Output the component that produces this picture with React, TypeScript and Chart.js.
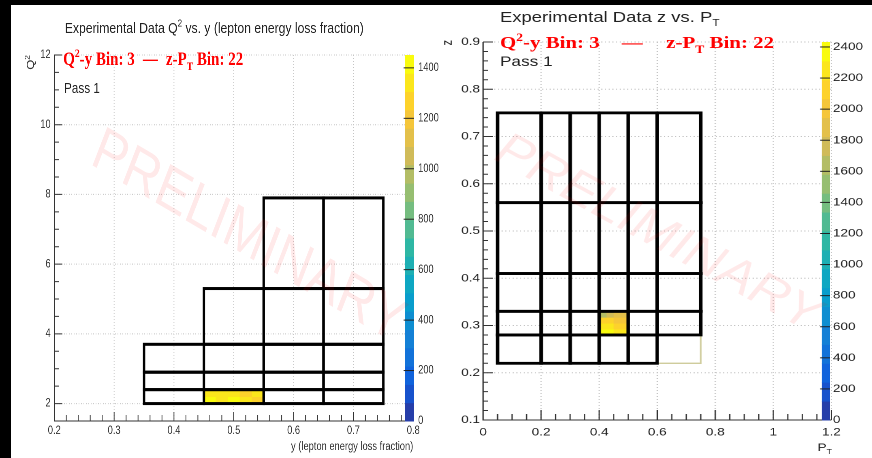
import React, { useEffect, useRef } from 'react';
import { Chart, registerables } from 'chart.js';

Chart.register(...registerables);

// ================= Left panel: Q² vs. y =================
const LEFT_X_RANGE = [0.2, 0.8];
const LEFT_Y_RANGE = [1.5, 12];
const LEFT_X_TICKS = [0.2, 0.3, 0.4, 0.5, 0.6, 0.7, 0.8];
const LEFT_Y_TICKS = [2, 4, 6, 8, 10, 12];
const Q2_EDGES = [2.0, 2.4, 2.9, 3.7, 5.3, 7.9];
const Y_EDGES_PER_Q2_ROW = [
  [0.35, 0.45, 0.55, 0.65, 0.75],
  [0.35, 0.45, 0.55, 0.65, 0.75],
  [0.35, 0.45, 0.55, 0.65, 0.75],
  [0.45, 0.55, 0.65, 0.75],
  [0.55, 0.65, 0.75],
];
const LEFT_FILL_X_EDGES = [0.45, 0.47, 0.49, 0.51, 0.53, 0.55];
const LEFT_FILL_Y_EDGES = [2.0, 2.2, 2.4];
const LEFT_FILL_VALUES = [
  [1390, 1350, 1385, 1340, 1300],
  [1360, 1320, 1345, 1290, 1330],
];
const LEFT_Z_MAX = 1451;
const LEFT_Z_TICKS = [0, 200, 400, 600, 800, 1000, 1200, 1400];

// ================= Right panel: z vs. PT =================
const RIGHT_X_RANGE = [0, 1.2];
const RIGHT_Y_RANGE = [0.1, 0.9];
const RIGHT_X_TICKS = [0, 0.2, 0.4, 0.6, 0.8, 1, 1.2];
const RIGHT_Y_TICKS = [0.1, 0.2, 0.3, 0.4, 0.5, 0.6, 0.7, 0.8, 0.9];
const Z_EDGES = [0.22, 0.28, 0.33, 0.41, 0.56, 0.75];
const PT_EDGES_PER_Z_ROW = [
  [0.05, 0.2, 0.3, 0.4, 0.5, 0.6],
  [0.05, 0.2, 0.3, 0.4, 0.5, 0.6, 0.75],
  [0.05, 0.2, 0.3, 0.4, 0.5, 0.6, 0.75],
  [0.05, 0.2, 0.3, 0.4, 0.5, 0.6, 0.75],
  [0.05, 0.2, 0.3, 0.4, 0.5, 0.6, 0.75],
];
const RIGHT_EMPTY_BINS = [[0.6, 0.75, 0.22, 0.28]];
const RIGHT_FILL_X_EDGES = [0.4, 0.425, 0.45, 0.475, 0.5];
const RIGHT_FILL_Y_EDGES = [0.28, 0.2925, 0.305, 0.3175, 0.33];
const RIGHT_FILL_VALUES = [
  [2420, 2390, 2300, 2200],
  [2260, 2200, 2120, 2080],
  [2080, 2120, 2050, 2000],
  [1680, 1760, 1850, 1900],
];
const RIGHT_Z_MAX = 2432;
const RIGHT_Z_TICKS = [0, 200, 400, 600, 800, 1000, 1200, 1400, 1600, 1800, 2000, 2200, 2400];

// ================= Styling =================
const FONT_SANS = '"Liberation Sans", Arial, Helvetica, sans-serif';
const FONT_SERIF = '"Liberation Serif", "Times New Roman", serif';
const BIRD_STOPS = [0, 0.125, 0.25, 0.375, 0.5, 0.625, 0.75, 0.875, 1];
const BIRD_R = [0.2082, 0.0592, 0.078, 0.0232, 0.1802, 0.5301, 0.8186, 0.9956, 0.9764];
const BIRD_G = [0.1664, 0.3599, 0.5041, 0.6419, 0.7178, 0.7492, 0.7328, 0.7862, 0.9832];
const BIRD_B = [0.5293, 0.8684, 0.8385, 0.7914, 0.6425, 0.4662, 0.3499, 0.1968, 0.0539];
const N_CONTOURS = 20;

function bird(f: number) {
  f = Math.max(0, Math.min(1, f));
  let i = 0;
  while (i < BIRD_STOPS.length - 2 && f > BIRD_STOPS[i + 1]) i++;
  const t = (f - BIRD_STOPS[i]) / (BIRD_STOPS[i + 1] - BIRD_STOPS[i]);
  const c = (a: number[]) => Math.round(255 * (a[i] + (a[i + 1] - a[i]) * t));
  return `rgb(${c(BIRD_R)},${c(BIRD_G)},${c(BIRD_B)})`;
}
function bandColor(band: number) {
  return bird((band + 0.99) / N_CONTOURS);
}
function valueColor(v: number, zMax: number) {
  const band = Math.min(N_CONTOURS - 1, Math.max(0, Math.floor((v / zMax) * N_CONTOURS)));
  return bandColor(band);
}

type Seg = { t?: string; s?: 'sup' | 'sub'; gap?: number };
function fontStr(size: number, family: string, weight: string) {
  return `${weight} ${size}px ${family}`;
}
function richWidth(ctx: CanvasRenderingContext2D, segs: Seg[], size: number, family: string, weight: string) {
  let w = 0;
  for (const s of segs) {
    if (s.gap) { w += s.gap; continue; }
    ctx.font = fontStr(s.s ? size * 0.65 : size, family, weight);
    w += ctx.measureText(s.t || '').width;
  }
  return w;
}
function drawRich(ctx: CanvasRenderingContext2D, segs: Seg[], x: number, y: number, size: number, family: string, weight: string, color: string, align: 'left' | 'right' = 'left') {
  const total = richWidth(ctx, segs, size, family, weight);
  let cx = align === 'right' ? x - total : x;
  ctx.fillStyle = color;
  ctx.textAlign = 'left';
  ctx.textBaseline = 'alphabetic';
  for (const s of segs) {
    if (s.gap) { cx += s.gap; continue; }
    const sz = s.s ? size * 0.65 : size;
    const dy = s.s === 'sup' ? -size * 0.42 : s.s === 'sub' ? size * 0.28 : 0;
    ctx.font = fontStr(sz, family, weight);
    ctx.fillText(s.t || '', cx, y + dy);
    cx += ctx.measureText(s.t || '').width;
  }
}

interface PanelDef {
  name: string;
  width: number;
  cssWidth: number;
  xRange: number[]; yRange: number[];
  xTicks: number[]; yTicks: number[];
  xMinorStep: number; yMinorStep: number;
  xMajorLen: number; xMinorLen: number; yMajorLen: number; yMinorLen: number;
  padTop: number; padRight: number; yAxisWidth: number; xAxisHeight: number;
  xLabelPad: number; yLabelPad: number; tickFont: number; labelColor: string;
  rowEdges: number[]; rowCols: number[][];
  emptyBins: number[][];
  fillX: number[]; fillY: number[]; fillV: number[][];
  zMax: number; zTicks: number[];
  binLineWidth: number;
  palX0: number; palX1: number; palLabelX: number; palFont: number;
  wm: { x: number; y: number; angle: number; size: number };
  texts: (ctx: CanvasRenderingContext2D) => void;
}

function fmt(v: any) {
  return String(Math.round(Number(v) * 1000) / 1000);
}

function makePlugin(p: PanelDef) {
  return {
    id: 'rootHist_' + p.name,
    afterDraw(chart: any) {
      const { ctx, chartArea: a, scales } = chart;
      const sx = scales.x, sy = scales.y, sz = scales.zpal;
      ctx.save();
      // dotted grid
      ctx.strokeStyle = '#c4c4c4';
      ctx.lineWidth = 1;
      ctx.setLineDash([1, 2]);
      for (const v of p.xTicks) {
        if (v === p.xRange[0]) continue;
        const px = sx.getPixelForValue(v);
        ctx.beginPath(); ctx.moveTo(px, a.top); ctx.lineTo(px, a.bottom); ctx.stroke();
      }
      for (const v of p.yTicks.concat([p.yRange[1]])) {
        if (v === p.yRange[0]) continue;
        const py = sy.getPixelForValue(v);
        ctx.beginPath(); ctx.moveTo(a.left, py); ctx.lineTo(a.right, py); ctx.stroke();
      }
      ctx.setLineDash([]);

      // filled fine bins
      for (let r = 0; r < p.fillV.length; r++) {
        for (let c = 0; c < p.fillV[r].length; c++) {
          const x0 = sx.getPixelForValue(p.fillX[c]);
          const x1 = sx.getPixelForValue(p.fillX[c + 1]);
          const y0 = sy.getPixelForValue(p.fillY[r]);
          const y1 = sy.getPixelForValue(p.fillY[r + 1]);
          ctx.fillStyle = valueColor(p.fillV[r][c], p.zMax);
          ctx.fillRect(x0, y1, x1 - x0 + 0.4, y0 - y1 + 0.4);
        }
      }

      // empty (thin, tan) bins
      ctx.strokeStyle = '#cfcc9c';
      ctx.lineWidth = 1.4;
      for (const b of p.emptyBins) {
        const x0 = sx.getPixelForValue(b[0]), x1 = sx.getPixelForValue(b[1]);
        const y0 = sy.getPixelForValue(b[2]), y1 = sy.getPixelForValue(b[3]);
        ctx.strokeRect(x0, y1, x1 - x0, y0 - y1);
      }

      // bin borders
      ctx.strokeStyle = '#000';
      ctx.lineWidth = p.binLineWidth;
      ctx.lineJoin = 'miter';
      for (let r = 0; r < p.rowCols.length; r++) {
        const y0 = sy.getPixelForValue(p.rowEdges[r]);
        const y1 = sy.getPixelForValue(p.rowEdges[r + 1]);
        const cols = p.rowCols[r];
        for (let c = 0; c < cols.length - 1; c++) {
          const x0 = sx.getPixelForValue(cols[c]);
          const x1 = sx.getPixelForValue(cols[c + 1]);
          ctx.strokeRect(x0, y1, x1 - x0, y0 - y1);
        }
      }

      // axes and ROOT-style inward ticks
      ctx.strokeStyle = '#333';
      ctx.lineWidth = 1;
      ctx.beginPath();
      ctx.moveTo(a.left, a.top); ctx.lineTo(a.left, a.bottom); ctx.lineTo(a.right, a.bottom);
      ctx.stroke();
      const isMajor = (arr: number[], v: number) => arr.some((t) => Math.abs(t - v) < 1e-6);
      const nx = Math.round((p.xRange[1] - p.xRange[0]) / p.xMinorStep);
      ctx.beginPath();
      for (let i = 0; i <= nx; i++) {
        const v = p.xRange[0] + i * p.xMinorStep;
        const len = isMajor(p.xTicks, v) ? p.xMajorLen : p.xMinorLen;
        const px = sx.getPixelForValue(v);
        ctx.moveTo(px, a.bottom); ctx.lineTo(px, a.bottom - len);
      }
      const ny = Math.round((p.yRange[1] - p.yRange[0]) / p.yMinorStep);
      for (let i = 0; i <= ny; i++) {
        const v = p.yRange[0] + i * p.yMinorStep;
        const len = isMajor(p.yTicks, v) ? p.yMajorLen : p.yMinorLen;
        const py = sy.getPixelForValue(v);
        ctx.moveTo(a.left, py); ctx.lineTo(a.left + len, py);
      }
      ctx.stroke();

      // colour palette
      for (let i = 0; i < N_CONTOURS; i++) {
        const ya = sz.getPixelForValue((i * p.zMax) / N_CONTOURS);
        const yb = sz.getPixelForValue(((i + 1) * p.zMax) / N_CONTOURS);
        ctx.fillStyle = bandColor(i);
        ctx.fillRect(p.palX0, yb, p.palX1 - p.palX0, ya - yb + 0.5);
      }
      ctx.strokeStyle = '#222';
      ctx.lineWidth = 1;
      ctx.font = fontStr(p.palFont, FONT_SANS, 'normal');
      ctx.fillStyle = p.labelColor;
      ctx.textAlign = 'left';
      ctx.textBaseline = 'middle';
      for (const t of p.zTicks) {
        const py = sz.getPixelForValue(t);
        if (t > 0) {
          ctx.beginPath(); ctx.moveTo(p.palX0 - 1.5, py); ctx.lineTo(p.palX1, py); ctx.stroke();
        }
        ctx.fillText(String(t), p.palLabelX, py);
      }

      // texts
      p.texts(ctx);

      // watermark
      ctx.save();
      ctx.translate(p.wm.x, p.wm.y);
      ctx.rotate((p.wm.angle * Math.PI) / 180);
      ctx.font = fontStr(p.wm.size, FONT_SANS, 'normal');
      ctx.fillStyle = 'rgba(255,0,0,0.085)';
      ctx.textAlign = 'center';
      ctx.textBaseline = 'middle';
      ctx.fillText('PRELIMINARY', 0, 0);
      ctx.restore();

      ctx.restore();
    },
  };
}

function buildConfig(p: PanelDef): any {
  const tickFont = { family: FONT_SANS, size: p.tickFont };
  return {
    type: 'scatter',
    data: { datasets: [] },
    options: {
      animation: false,
      responsive: false,
      devicePixelRatio: 2,
      events: [],
      layout: { padding: { left: 0, top: p.padTop, right: p.padRight, bottom: 0 } },
      plugins: { legend: { display: false }, tooltip: { enabled: false } },
      scales: {
        x: {
          type: 'linear', position: 'bottom', min: p.xRange[0], max: p.xRange[1],
          afterBuildTicks: (s: any) => { s.ticks = p.xTicks.map((v) => ({ value: v })); },
          afterFit: (s: any) => { s.height = p.xAxisHeight; },
          grid: { display: false, drawTicks: false },
          border: { display: false },
          ticks: { autoSkip: false, maxRotation: 0, minRotation: 0, padding: p.xLabelPad, color: p.labelColor, font: tickFont, callback: (v: any) => fmt(v) },
        },
        y: {
          type: 'linear', position: 'left', min: p.yRange[0], max: p.yRange[1],
          afterBuildTicks: (s: any) => { s.ticks = p.yTicks.map((v) => ({ value: v })); },
          afterFit: (s: any) => { s.width = p.yAxisWidth; },
          grid: { display: false, drawTicks: false },
          border: { display: false },
          ticks: { autoSkip: false, padding: p.yLabelPad, color: p.labelColor, font: tickFont, callback: (v: any) => fmt(v) },
        },
        zpal: { type: 'linear', axis: 'y', position: 'right', display: false, min: 0, max: p.zMax },
      },
    },
    plugins: [makePlugin(p)],
  };
}

const LEFT: PanelDef = {
  name: 'left', width: 543, cssWidth: 440,
  xRange: LEFT_X_RANGE, yRange: LEFT_Y_RANGE, xTicks: LEFT_X_TICKS, yTicks: LEFT_Y_TICKS,
  xMinorStep: 0.02, yMinorStep: 0.5,
  xMajorLen: 9, xMinorLen: 6, yMajorLen: 10, yMinorLen: 6,
  padTop: 55, padRight: 33, yAxisWidth: 67, xAxisHeight: 37,
  xLabelPad: 3, yLabelPad: 4.5, tickFont: 11.5, labelColor: '#333',
  rowEdges: Q2_EDGES, rowCols: Y_EDGES_PER_Q2_ROW, emptyBins: [],
  fillX: LEFT_FILL_X_EDGES, fillY: LEFT_FILL_Y_EDGES, fillV: LEFT_FILL_VALUES,
  zMax: LEFT_Z_MAX, zTicks: LEFT_Z_TICKS, binLineWidth: 3,
  palX0: 499.5, palX1: 511, palLabelX: 516, palFont: 11.5,
  wm: { x: 306, y: 238, angle: 25.5, size: 62 },
  texts: (ctx) => {
    drawRich(ctx, [{ t: 'Experimental Data Q' }, { t: '2', s: 'sup' }, { t: ' vs. y (lepton energy loss fraction)' }], 80, 33, 15, FONT_SANS, 'normal', '#222');
    drawRich(ctx, [{ t: 'Q' }, { t: '2', s: 'sup' }, { t: '-y Bin: 3' }, { gap: 10 }, { t: '\u2014' }, { gap: 10 }, { t: 'z-P' }, { t: 'T', s: 'sub' }, { t: ' Bin: 22' }], 78, 65, 18.5, FONT_SERIF, 'bold', '#ff0000');
    drawRich(ctx, [{ t: 'Pass 1' }], 79, 93, 14.5, FONT_SANS, 'normal', '#222');
    drawRich(ctx, [{ t: 'y (lepton energy loss fraction)' }], 510, 450, 11.5, FONT_SANS, 'normal', '#333', 'right');
    ctx.save();
    ctx.translate(42, 55);
    ctx.rotate(-Math.PI / 2);
    drawRich(ctx, [{ t: 'Q' }, { t: '2', s: 'sup' }], 0, 0, 13, FONT_SANS, 'normal', '#333', 'right');
    ctx.restore();
  },
};

const RIGHT: PanelDef = {
  name: 'right', width: 351, cssWidth: 432,
  xRange: RIGHT_X_RANGE, yRange: RIGHT_Y_RANGE, xTicks: RIGHT_X_TICKS, yTicks: RIGHT_Y_TICKS,
  xMinorStep: 0.05, yMinorStep: 0.02,
  xMajorLen: 10, xMinorLen: 6, yMajorLen: 8, yMinorLen: 4,
  padTop: 42, padRight: 33, yAxisWidth: 35, xAxisHeight: 38,
  xLabelPad: 6, yLabelPad: 2.5, tickFont: 11, labelColor: '#222',
  rowEdges: Z_EDGES, rowCols: PT_EDGES_PER_Z_ROW, emptyBins: RIGHT_EMPTY_BINS,
  fillX: RIGHT_FILL_X_EDGES, fillY: RIGHT_FILL_Y_EDGES, fillV: RIGHT_FILL_VALUES,
  zMax: RIGHT_Z_MAX, zTicks: RIGHT_Z_TICKS, binLineWidth: 2.8,
  palX0: 310.4, palX1: 317, palLabelX: 319.3, palFont: 11,
  wm: { x: 176.7, y: 234, angle: 34, size: 46 },
  texts: (ctx) => {
    drawRich(ctx, [{ t: 'Experimental Data z vs. P' }, { t: 'T', s: 'sub' }], 48.7, 22, 15, FONT_SANS, 'normal', '#222');
    drawRich(ctx, [{ t: 'Q' }, { t: '2', s: 'sup' }, { t: '-y Bin: 3' }, { gap: 18 }, { t: '\u2014' }, { gap: 19 }, { t: 'z-P' }, { t: 'T', s: 'sub' }, { t: ' Bin: 22' }], 48.7, 48, 17, FONT_SERIF, 'bold', '#ff0000');
    drawRich(ctx, [{ t: 'Pass 1' }], 48.7, 66, 14, FONT_SANS, 'normal', '#222');
    drawRich(ctx, [{ t: 'P' }, { t: 'T', s: 'sub' }], 318.5, 451, 11, FONT_SANS, 'normal', '#222', 'right');
    ctx.save();
    ctx.translate(9.5, 40);
    ctx.rotate(-Math.PI / 2);
    drawRich(ctx, [{ t: 'z' }], 0, 0, 11, FONT_SANS, 'normal', '#222', 'right');
    ctx.restore();
  },
};

export default function App() {
  const leftRef = useRef<HTMLCanvasElement>(null);
  const rightRef = useRef<HTMLCanvasElement>(null);
  useEffect(() => {
    const c1 = new Chart(leftRef.current as HTMLCanvasElement, buildConfig(LEFT));
    const c2 = new Chart(rightRef.current as HTMLCanvasElement, buildConfig(RIGHT));
    return () => {
      c1.destroy();
      c2.destroy();
    };
  }, []);
  return (
    <div style={{ position: 'fixed', left: 0, top: 0, width: 872, height: 458, background: '#fff', overflow: 'hidden' }}>
      <canvas ref={leftRef} width={LEFT.width} height={458} style={{ position: 'absolute', left: 0, top: 0, width: `${LEFT.cssWidth}px`, height: '458px' }} />
      <canvas ref={rightRef} width={RIGHT.width} height={458} style={{ position: 'absolute', left: 440, top: 0, width: `${RIGHT.cssWidth}px`, height: '458px' }} />
      <div style={{ position: 'absolute', left: 0, top: 0, width: 11, height: 458, background: '#000' }} />
      <div style={{ position: 'absolute', left: 0, top: 0, width: 872, height: 5, background: '#000' }} />
    </div>
  );
}
